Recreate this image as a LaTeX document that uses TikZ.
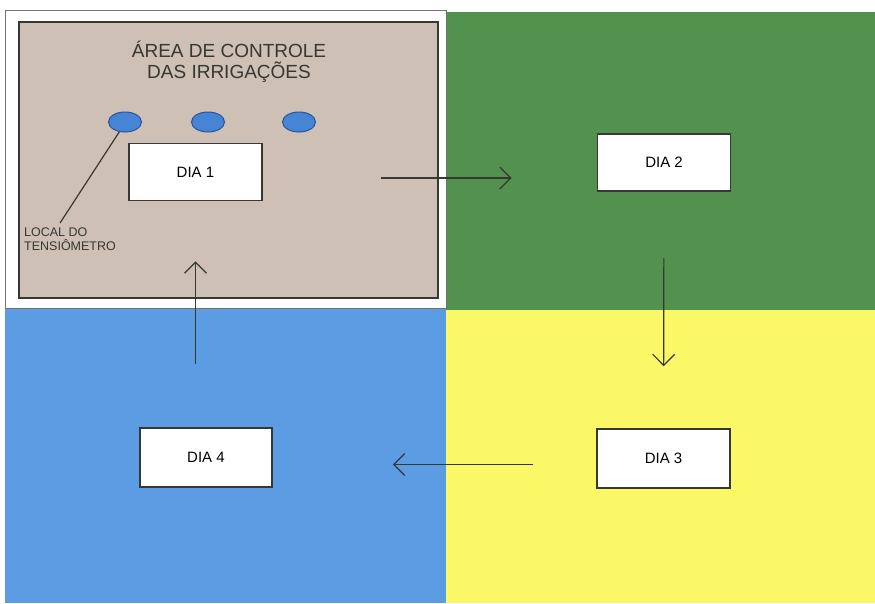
\documentclass[tikz,border=0pt]{standalone}
\usepackage{fontspec}
\setmainfont{Liberation Sans}
\usetikzlibrary{arrows.meta,shapes.geometric}

\definecolor{verde}{RGB}{82,146,78}
\definecolor{azul}{RGB}{92,156,226}
\definecolor{amarelo}{RGB}{250,248,102}
\definecolor{bege}{RGB}{206,192,180}
\definecolor{borda}{RGB}{55,55,52}
\definecolor{ponto}{RGB}{70,132,212}
\definecolor{pontoborda}{RGB}{40,84,160}

\tikzset{
    dia/.style={draw=borda, line width=1.7pt, fill=white, inner sep=0pt,
        minimum width=133pt, minimum height=57pt,
        font=\fontsize{15}{15}\selectfont},
    seta/.style={draw=borda, line width=1.2pt,
        -{Straight Barb[length=11pt, width=22pt, line width=1.2pt]}},
    tensiometro/.style={ellipse, draw=pontoborda, line width=1pt, fill=ponto,
        minimum width=33pt, minimum height=20pt, inner sep=0pt}
}

\begin{document}
\begin{tikzpicture}[x=1pt, y=-1pt]
    \useasboundingbox (0,0) rectangle (875,603);
    \fill[white] (0,0) rectangle (875,603);

    % Quadrants
    \fill[verde] (446,12) rectangle (875,310);
    \fill[azul] (5,308) rectangle (446,603);
    \fill[amarelo] (446,310) rectangle (875,603);
    \draw[borda!70, line width=0.8pt, fill=white] (5,10) rectangle (446,308);

    % Control area
    \draw[borda, line width=1.6pt, fill=bege] (19,22) rectangle (438,298);
    \node[font=\fontsize{19}{21}\selectfont, align=center, text=borda] (titulo) at (229,62)
        {ÁREA DE CONTROLE\\DAS IRRIGAÇÕES};

    % Tensiometer spots
    \node[tensiometro] (t1) at (125,122) {};
    \node[tensiometro] (t2) at (208,122) {};
    \node[tensiometro] (t3) at (299,122) {};

    \node[font=\fontsize{12.5}{14}\selectfont, align=left, anchor=north west,
        inner sep=0pt, text=borda] (local) at (24,228) {LOCAL DO\\TENSIÔMETRO};
    \draw[borda, line width=1.2pt] (t1.240) -- ([xshift=-10pt, yshift=5pt]local.north);

    % Days
    \node[dia] (d1) at (195.5,172) {DIA 1};
    \node[dia] (d2) at (664,162.5) {DIA 2};
    \node[dia, minimum height=59pt] (d3) at (663.5,458.5) {DIA 3};
    \node[dia, minimum height=59pt, minimum width=132pt] (d4) at (206,457.5) {DIA 4};

    % Cycle of irrigations
    \draw[seta, shorten <=118pt, shorten >=85pt]
        ([yshift=-6pt]d1.east) -- ([yshift=-6pt]d1.east -| d2.west);
    \draw[seta, shorten <=66pt, shorten >=62pt] (d2.south) -- (d3.north);
    \draw[seta, shorten <=63pt, shorten >=120pt]
        ([yshift=-6pt]d3.west) -- ([yshift=-6pt]d3.west -| d4.east);
    \draw[seta, shorten <=63pt, shorten >=60pt] (d4.north -| d1.south) -- (d1.south);
\end{tikzpicture}
\end{document}
